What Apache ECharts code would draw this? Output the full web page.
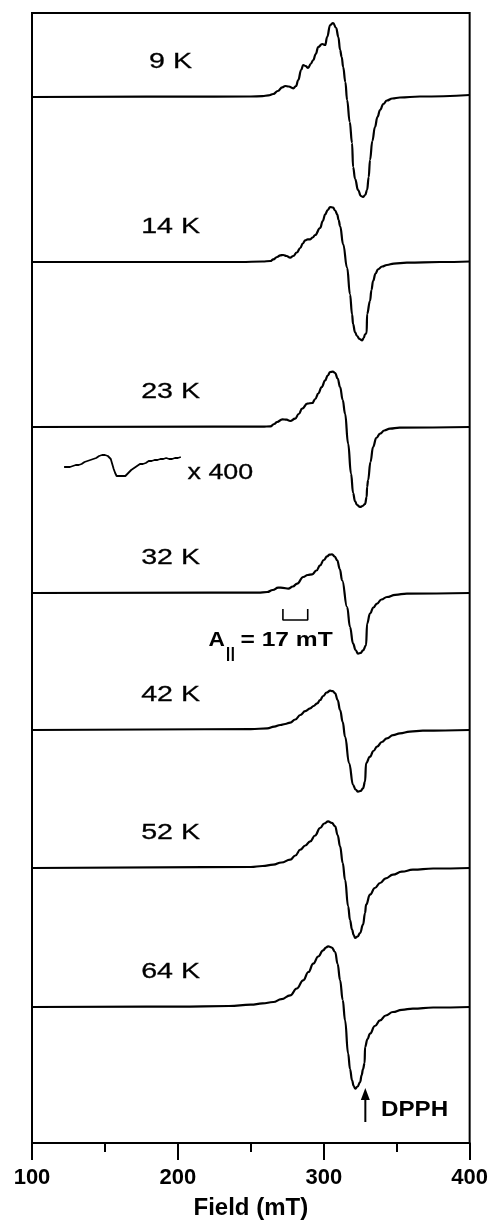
<!DOCTYPE html>
<html><head><meta charset="utf-8">
<script src="https://cdn.jsdelivr.net/npm/echarts@6/dist/echarts.min.js"></script>
<style>html,body{margin:0;padding:0;background:#fff}#c{width:491px;height:1226px}</style>
</head><body><div id="c"></div>
<script>
// Temperatures and vertical stacking offsets (signal units)
const temps = ['9 K', '14 K', '23 K', '32 K', '42 K', '52 K', '64 K'];
const offsets = [1046, 881, 716, 550, 413, 275, 136];

// EPR spectra: [field (mT), signal relative to baseline]
const spec9K = [[100,0],[200,0.3],[250,0.5],[258,0.8],[262,1.6],[265.4,3],[268.5,6],[271.6,9.7],[273.6,11],[276,10.5],[279.1,8.7],[281,11],[282.5,17],[284.5,27],[285.9,32],[287.5,31],[289.3,29],[291,33],[292.8,37],[294.5,43],[296.2,50],[298.9,53],[301,52],[302.3,60],[304.4,72],[306.4,74],[308.5,69],[310,60],[311.2,47],[312.3,40],[313.3,30],[314.8,15],[316,-3],[317.8,-25],[319.4,-46],[320.1,-70],[321.5,-82],[323.5,-93],[325.5,-99],[326.9,-100],[328.4,-98],[329.7,-93],[330.8,-80],[331.7,-63],[333.3,-44],[335.1,-30],[336.8,-20],[338.6,-13],[340.8,-7],[343.3,-3.5],[347,-1.5],[352.2,-0.5],[365.9,0.5],[400,2]];
const spec14K = [[100,0],[242.9,0],[258,0.5],[263.4,1],[265.4,2.7],[268,5],[270.2,6.7],[272.2,7],[274.5,6],[277,4.3],[279.1,6],[281.5,9.5],[283.9,14],[285.6,18.5],[287.3,21.7],[289,22.6],[290.7,22.7],[292.4,24.5],[294.1,27],[297.5,34],[299.3,41],[301,47.7],[302.7,52],[304.4,55],[306.4,54.3],[307.8,51.5],[309.2,47.7],[310.2,42],[311.2,36],[313.3,17.7],[316,-5.7],[318,-32.3],[319.4,-52.3],[320.1,-62],[321.4,-70],[322.8,-74],[324.5,-77],[326.3,-78.3],[327.4,-76],[328.3,-72.3],[329.4,-71],[329.7,-52],[331.7,-39],[332.7,-28],[333.8,-19],[335.5,-11.5],[337.2,-7.3],[340,-4.5],[343.3,-3],[348,-1.6],[357,-0.7],[379.6,0],[400,0.5]];
const spec23K = [[100,0],[258,0.3],[263.4,0.7],[266,3],[268,5],[271.6,7.7],[274.5,7.3],[277,6],[280.4,8.4],[282.8,13],[285.2,18.4],[288.7,23.4],[292.1,24],[294.2,28],[296.2,33.4],[298.6,40],[301,46.7],[302.7,51.5],[304.4,55],[306.2,55.3],[307.8,54],[309.5,48.5],[311.2,40],[313,27],[314.6,13.4],[316.7,-16.6],[318.7,-46.6],[320.1,-66],[321.4,-74],[322.8,-78],[324.9,-80],[326.6,-79],[328.3,-77],[329.4,-70],[329.7,-60],[330.4,-53],[332,-35],[333.8,-20],[336,-11],[338.6,-6.6],[341.5,-3.5],[345.4,-1.6],[352,-0.6],[400,0]];
const spec32K = [[100,0],[255,0.4],[261.3,1],[265,3],[268.8,5.4],[272,5.2],[275.7,4.4],[278.8,6.5],[281.8,9.4],[285.9,16],[289,18],[292.1,18.7],[295,22.5],[297.5,27.7],[300,33],[302.3,36.7],[304,38.4],[305.7,38.7],[307.5,36.5],[309.2,32.7],[311,24],[312.6,12.7],[316,-14],[318,-34],[320.1,-50.6],[321.8,-57],[323.5,-60.6],[325.2,-60],[326.9,-57.3],[329,-52.3],[329.7,-30.6],[331.7,-20.6],[334,-14.5],[336.5,-10.6],[339.5,-6.5],[343.3,-4],[349,-1.8],[357,-0.6],[400,0]];
const spec42K = [[100,0],[250,0.8],[261.3,1.7],[266,3.4],[270.2,5],[273.5,6],[277,7.3],[280.5,10.5],[283.9,15],[287.3,18.8],[290.7,21.7],[293,24],[295.5,26.7],[297.5,30],[299.6,34],[302,37.5],[304.4,39.3],[306.2,38.8],[307.8,36.7],[309.5,30],[311.2,20],[313,8],[314.6,-6.7],[317.4,-33.3],[320.1,-55],[321.8,-59.5],[323.5,-61.7],[325.2,-61],[326.9,-58.3],[328.3,-51.7],[329,-33],[331.7,-26.7],[334,-21],[336.5,-16.7],[339.8,-12],[343.3,-8.3],[347.5,-5.2],[352.2,-3.3],[359,-1.6],[367.9,-0.7],[400,0]];
const spec52K = [[100,0],[250,1],[258,2],[265.4,3.3],[271,5.5],[277,8.3],[280.5,12.5],[283.9,18.3],[287.3,22.5],[290.7,26.6],[294,32.5],[297.5,40],[300.3,44.5],[303,46.6],[305.5,45.2],[307.8,41.6],[309.5,33],[311.2,21.6],[313,5],[314.6,-11.7],[316.7,-38.4],[318,-52],[319.4,-61.7],[320.5,-67],[321.5,-70],[323.2,-68.5],[324.9,-65],[326.9,-56.7],[328.3,-45],[329,-36.7],[331.7,-26.7],[335,-20],[338.6,-15],[342.5,-10.3],[347.4,-6.7],[353.5,-3.7],[361.1,-1.7],[375,-0.5],[400,0]];
const spec64K = [[100,0],[200,0.3],[235,1],[250,2.3],[258,3.6],[265.4,5],[271,7.8],[277,11.7],[281.5,18.5],[285.9,26.7],[289.5,35],[292.8,43.4],[296.2,50.5],[299.6,56.7],[301.5,59.5],[303,60.7],[305.5,59.4],[307.8,55],[309.5,43],[311.2,26.7],[313,7],[314.6,-13.3],[316.7,-46.6],[318,-62],[319.4,-73.3],[320.5,-79],[321.5,-81.6],[323.2,-79.5],[324.9,-75],[326,-68],[326.9,-62],[328,-56],[328.3,-40],[330,-32],[331.7,-26.6],[335,-19],[338.6,-13.3],[342.5,-8.5],[347.4,-5],[353.5,-2.8],[361.1,-1.6],[375,-0.5],[400,0]];
const spectra = [spec9K, spec14K, spec23K, spec32K, spec42K, spec52K, spec64K];

// x 400 magnified low-field trace (23 K)
const inset = [[122,0],[123,1],[124,0],[125,1],[126,0],[127,2],[128,1],[129,2],[130,2],[131,3],[132,2],[133,4],[134,3],[135,4],[136,5],[137,4],[138,6],[139,5],[140,7],[141,6],[142,8],[143,8],[144,9],[145,10],[146,11],[147,10],[148,12],[149,11],[150,12],[151,12],[152,11],[153,11],[154,8],[155,3],[156,-2],[157,-6],[158,-9],[159,-10],[160,-9],[161,-10],[162,-9],[163,-8],[164,-9],[165,-7],[166,-6],[167,-5],[168,-3],[169,-3],[170,-1],[171,0],[172,1],[173,2],[174,3],[175,4],[176,3],[177,5],[178,4],[179,5],[180,6],[181,5],[182,6],[183,5],[184,7],[185,6],[186,7],[187,6],[188,8],[189,7],[190,8],[191,7],[192,9],[193,8],[194,8],[195,9],[196,8],[197,10],[198,9],[199,10],[200,9],[201,11],[202,10]];
const insetOffset = 676;

// A|| bracket (field endpoints, signal levels)
const aBracket = [[272,534],[272,523],[289,523],[289,534]];
const xTicks = [100, 200, 300, 400];
const dpphField = 328.5;

const chart = echarts.init(document.getElementById('c'), null, {renderer: 'canvas'});
const FONT = '"Liberation Sans", Arial, sans-serif';

const series = spectra.map((s, i) => ({
  type: 'line', name: temps[i], data: s.map(p => [p[0], p[1] + offsets[i]]),
  showSymbol: false, symbol: 'none', smooth: 0.45, smoothMonotone: 'x',
  lineStyle: {color: '#000', width: 2.2}, silent: true, animation: false
}));
series.push({
  type: 'line', name: 'x400', data: inset.map(p => [p[0], p[1] + insetOffset]),
  showSymbol: false, symbol: 'none', lineStyle: {color: '#000', width: 1.8}, animation: false
});
series.push({
  type: 'line', name: 'bracket', data: aBracket, showSymbol: false, symbol: 'none',
  lineStyle: {color: '#000', width: 1.6}, animation: false
});

chart.setOption({
  animation: false,
  backgroundColor: '#fff',
  grid: {left: 32, right: 20, top: 13, bottom: 83, show: true, borderColor: '#000', borderWidth: 2},
  xAxis: {
    type: 'value', min: 100, max: 400, interval: 100,
    axisLine: {show: true, lineStyle: {color: '#000', width: 2}},
    axisTick: {show: true, length: 17, lineStyle: {color: '#000', width: 2}},
    minorTick: {show: true, splitNumber: 2, length: 9, lineStyle: {color: '#000', width: 2}},
    splitLine: {show: false}, minorSplitLine: {show: false},
    axisLabel: {fontSize: 22, fontWeight: 'bold', color: '#000', margin: 24, fontFamily: FONT,
      formatter: v => xTicks.includes(v) ? String(v) : ''},
    name: 'Field (mT)', nameLocation: 'middle', nameGap: 53,
    nameTextStyle: {fontSize: 24, fontWeight: 'bold', color: '#000', fontFamily: FONT}
  },
  yAxis: {type: 'value', min: 0, max: 1130, show: false, splitLine: {show: false}},
  series: series
});

const P = (f, v) => chart.convertToPixel({gridIndex: 0}, [f, v]);
function txt(f, v, text, size, weight, sx, align, sw) {
  const p = P(f, v);
  return {type: 'text', x: p[0], y: p[1], scaleX: sx, z: 10,
    style: {text: text, font: weight + ' ' + size + 'px ' + FONT, fill: '#000',
      stroke: sw ? '#000' : null, lineWidth: sw || 0,
      textAlign: align, textVerticalAlign: 'middle', align: align, verticalAlign: 'middle'}};
}
const g = [];
temps.forEach((t, i) => g.push(txt(195, offsets[i] + 35, t, 22, 'normal', 1.3, 'center', 0.3)));
g.push(txt(206.6, 670, 'x 400', 22, 'normal', 1.22, 'left', 0.3));
g.push(txt(221, 503, 'A', 21, 'bold', 1.08, 'left'));
g.push(txt(236, 489, '||', 15, 'bold', 1.1, 'center'));
g.push(txt(242.9, 503, '= 17 mT', 21, 'bold', 1.17, 'left'));
g.push(txt(339.2, 33, 'DPPH', 22, 'bold', 1.1, 'left'));
const tip = P(dpphField, 55), hb = P(dpphField, 43), tail = P(dpphField, 21);
g.push({type: 'line', z: 10, shape: {x1: tail[0], y1: tail[1], x2: hb[0], y2: hb[1]}, style: {stroke: '#000', lineWidth: 2}});
g.push({type: 'polygon', z: 10, shape: {points: [[tip[0], tip[1]], [hb[0] - 4.5, hb[1]], [hb[0] + 4.5, hb[1]]]}, style: {fill: '#000'}});
chart.setOption({graphic: g});
</script></body></html>
